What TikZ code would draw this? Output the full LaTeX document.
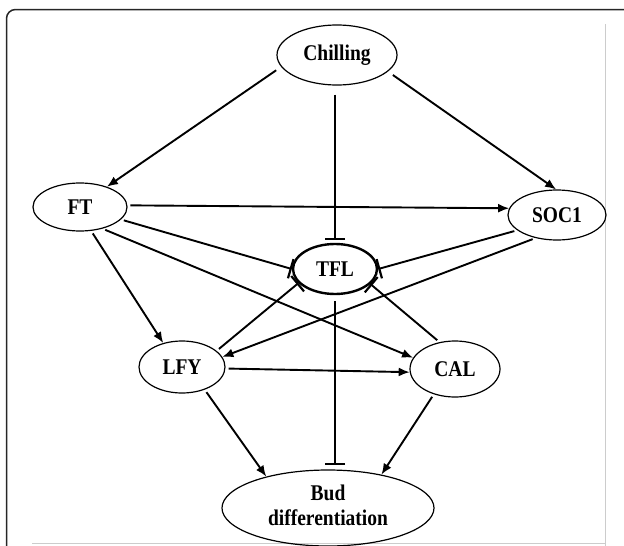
\documentclass[tikz,border=0pt]{standalone}
\usepackage{fontspec}
\setmainfont{Liberation Serif}
\usetikzlibrary{shapes.geometric,arrows.meta,calc}
\newcommand{\stretchtxt}[1]{\scalebox{1}[1.15]{#1}}
\begin{document}
\begin{tikzpicture}[x=1pt,y=-1pt,
  gene/.style={ellipse,draw,line width=1.2pt,inner sep=0pt,font=\fontsize{19.5}{22}\selectfont\bfseries},
  act/.style={line width=1.9pt,shorten <=3pt,-{Latex[length=11pt,width=9pt]}},
  inh/.style={line width=1.9pt,shorten <=3pt,-{Bar[width=20pt,line width=2.2pt]}}]
\useasboundingbox (0,0) rectangle (624,546);
\begin{scope}
\clip (0,0) rectangle (624,546);
\draw[line width=1.5pt,color=black!85,rounded corners=9pt] (6.5,9.5) rectangle (632,560);
\draw[gray!40,line width=1pt] (605,24) -- (605,546);
\draw[gray!40,line width=1pt] (32,543.5) -- (605,543.5);
\end{scope}

\node[gene,minimum width=120pt,minimum height=60pt] (chill) at (337,55) {\stretchtxt{Chilling}};
\node[gene,minimum width=94pt,minimum height=48pt] (ft) at (80,207) {\stretchtxt{FT}};
\node[gene,minimum width=98pt,minimum height=50pt] (soc) at (557,215) {\stretchtxt{SOC1}};
\node[gene,line width=2.4pt,minimum width=84pt,minimum height=50pt] (tfl) at (335,269) {\stretchtxt{TFL}};
\node[gene,minimum width=86pt,minimum height=52pt] (lfy) at (182,367) {\stretchtxt{LFY}};
\node[gene,minimum width=90pt,minimum height=56pt] (cal) at (455,369) {\stretchtxt{CAL}};
\node[gene,minimum width=212pt,minimum height=76pt] (bud) at (328,508) {\stretchtxt{\begin{tabular}{@{}c@{}}Bud\\[-1pt]differentiation\end{tabular}}};

\draw[act,shorten <=6pt] (chill.192) -- (ft.37);
\draw[act,shorten <=6pt] (chill.342) -- (soc.92);
\draw[inh,shorten <=9pt,shorten >=3pt] (tfl.north |- chill.south) -- (tfl.north);
\draw[act] (ft.2) -- (soc.172);
\draw[inh] (ft.343) -- (tfl.180);
\draw[act] (ft.295) -- (lfy.128);
\draw[act] (ft.316) -- (cal.165);
\draw[inh] (soc.201) -- (tfl.0);
\draw[act] (soc.227) -- (lfy.14);
\draw[inh] (lfy.25) -- (tfl.201);
\draw[inh] (cal.120) -- (tfl.337);
\draw[act] (lfy.358) -- (cal.184);
\draw[inh,shorten <=6pt,shorten >=4pt] (tfl.south) -- (tfl.south |- bud.north);
\draw[act] (lfy.315) -- (bud.153);
\draw[act] (cal.230) -- (bud.32);
\end{tikzpicture}
\end{document}
